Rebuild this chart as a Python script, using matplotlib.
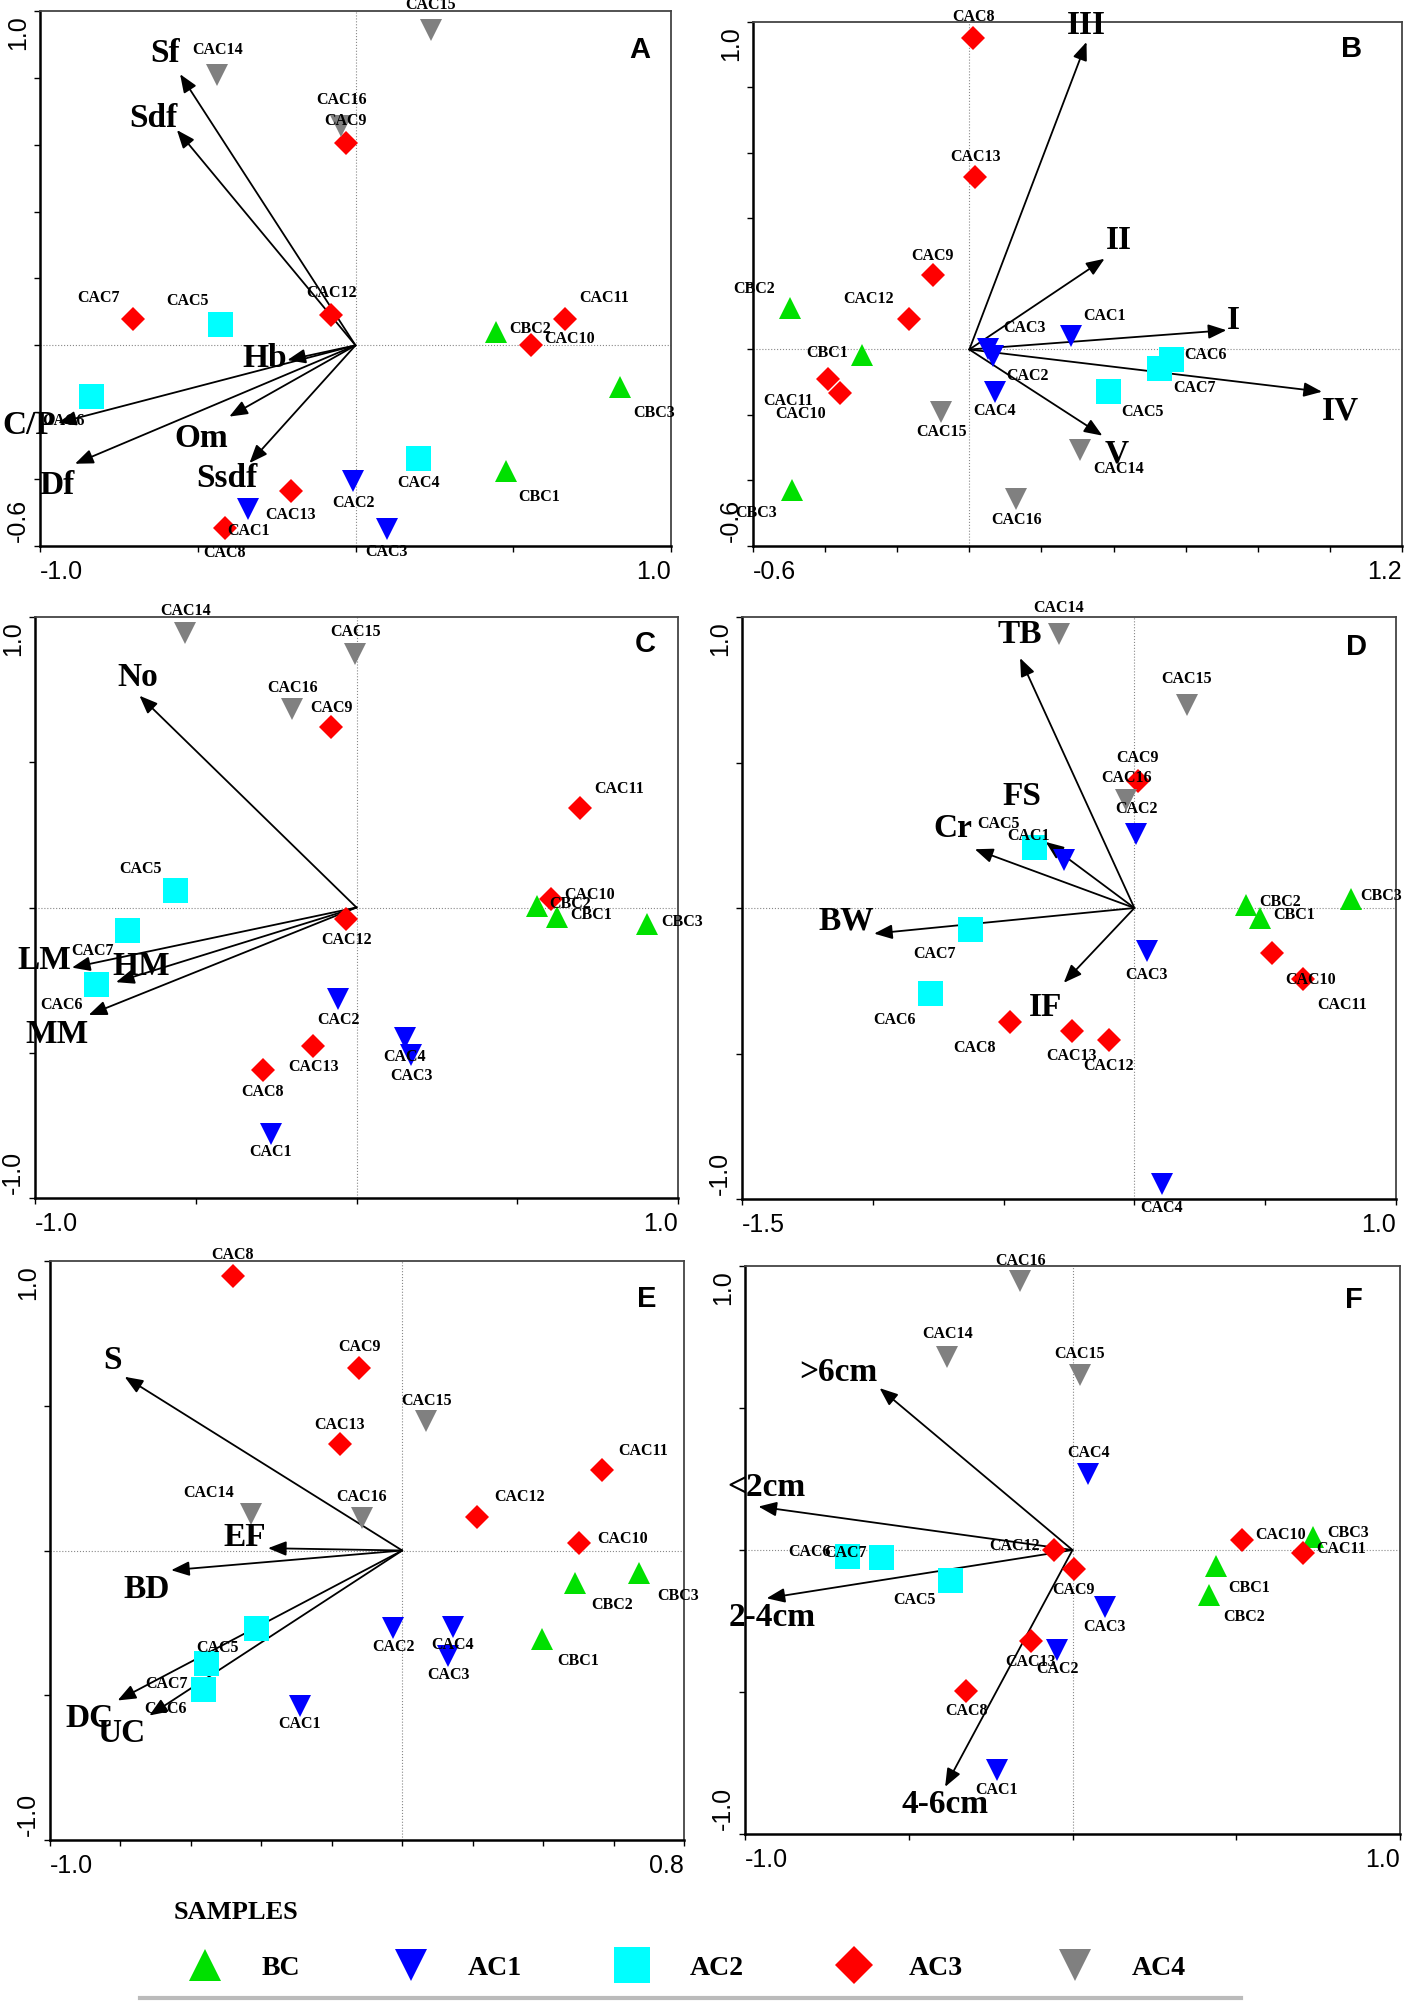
import numpy as np
import matplotlib
matplotlib.use("Agg")
import matplotlib.pyplot as plt
from matplotlib.lines import Line2D

SERIF = "Liberation Serif"
SANS = "Liberation Sans"

# ---------------- data ----------------
samples = ["CBC1", "CBC2", "CBC3",
           "CAC1", "CAC2", "CAC3", "CAC4",
           "CAC5", "CAC6", "CAC7",
           "CAC8", "CAC9", "CAC10", "CAC11", "CAC12", "CAC13",
           "CAC14", "CAC15", "CAC16"]
groups = ["BC", "BC", "BC",
          "AC1", "AC1", "AC1", "AC1",
          "AC2", "AC2", "AC2",
          "AC3", "AC3", "AC3", "AC3", "AC3", "AC3",
          "AC4", "AC4", "AC4"]
# panel A shows CAC4 as a square and CAC7 as a diamond
groups_a = {"CAC4": "AC2", "CAC7": "AC3"}

# A
a_x = [0.477, 0.444, 0.837, -0.340, -0.007, 0.099, 0.199, -0.428, -0.837, -0.705,
       -0.414, -0.031, 0.555, 0.664, -0.077, -0.206, -0.438, 0.238, -0.045]
a_y = [-0.375, 0.041, -0.123, -0.490, -0.405, -0.550, -0.337, 0.065, -0.151, 0.080,
       -0.546, 0.605, 0.001, 0.078, 0.091, -0.437, 0.808, 0.944, 0.656]
a_vars = ["Sf", "Sdf", "Hb", "C/P", "Df", "Om", "Ssdf"]
a_vx = [-0.556, -0.566, -0.216, -0.943, -0.889, -0.400, -0.336]
a_vy = [0.811, 0.644, -0.044, -0.232, -0.354, -0.213, -0.352]

# B
b_x = [-0.299, -0.498, -0.491, 0.282, 0.065, 0.052, 0.071, 0.384, 0.559, 0.527,
       0.011, -0.101, -0.360, -0.391, -0.168, 0.017, 0.307, -0.078, 0.130]
b_y = [-0.018, 0.126, -0.430, 0.040, -0.021, 0.002, -0.129, -0.126, -0.029, -0.055,
       0.951, 0.227, -0.133, -0.089, 0.094, 0.528, -0.306, -0.192, -0.458]
b_vars = ["I", "II", "III", "IV", "V"]
b_vx = [0.713, 0.375, 0.325, 0.978, 0.369]
b_vy = [0.059, 0.277, 0.939, -0.129, -0.263]

# C
c_x = [0.625, 0.562, 0.904, -0.266, -0.056, 0.171, 0.150, -0.563, -0.811, -0.714,
       -0.291, -0.078, 0.604, 0.695, -0.032, -0.134, -0.532, -0.004, -0.200]
c_y = [-0.032, 0.004, -0.058, -0.780, -0.316, -0.507, -0.449, 0.061, -0.264, -0.077,
       -0.558, 0.620, 0.029, 0.341, -0.039, -0.478, 0.945, 0.872, 0.684]
c_vars = ["No", "LM", "HM", "MM"]
c_vx = [-0.675, -0.885, -0.748, -0.833]
c_vy = [0.729, -0.207, -0.257, -0.370]

# D
d_x = [0.482, 0.425, 0.828, -0.270, 0.007, 0.047, 0.105, -0.382, -0.783, -0.627,
       -0.477, 0.012, 0.525, 0.646, -0.097, -0.240, -0.290, 0.200, -0.031]
d_y = [-0.033, 0.010, 0.032, 0.165, 0.256, -0.149, -0.950, 0.209, -0.293, -0.072,
       -0.391, 0.436, -0.156, -0.243, -0.452, -0.423, 0.941, 0.696, 0.371]
d_vars = ["TB", "FS", "Cr", "BW", "IF"]
d_vx = [-0.437, -0.339, -0.610, -0.995, -0.270]
d_vy = [0.859, 0.227, 0.202, -0.088, -0.257]

# E
e_x = [0.397, 0.490, 0.673, -0.291, -0.026, 0.131, 0.144, -0.414, -0.565, -0.558,
       -0.481, -0.122, 0.503, 0.567, 0.212, -0.177, -0.429, 0.068, -0.115]
e_y = [-0.304, -0.113, -0.079, -0.536, -0.267, -0.363, -0.263, -0.266, -0.477, -0.389,
       0.948, 0.630, 0.027, 0.278, 0.116, 0.368, 0.125, 0.446, 0.112]
e_vars = ["S", "EF", "BD", "DC", "UC"]
e_vx = [-0.788, -0.381, -0.656, -0.808, -0.718]
e_vy = [0.600, 0.008, -0.068, -0.518, -0.570]

# F
f_x = [0.439, 0.418, 0.734, -0.232, -0.046, 0.099, 0.048, -0.375, -0.690, -0.586,
       -0.324, 0.004, 0.517, 0.703, -0.055, -0.128, -0.383, 0.023, -0.159]
f_y = [-0.056, -0.157, 0.046, -0.776, -0.352, -0.202, 0.268, -0.107, -0.021, -0.025,
       -0.498, -0.067, 0.035, -0.011, 0.000, -0.320, 0.681, 0.616, 0.946]
f_vars = [">6cm", "<2cm", "2-4cm", "4-6cm"]
f_vx = [-0.589, -0.959, -0.934, -0.389]
f_vy = [0.570, 0.153, -0.170, -0.834]

# ---------------- label placement (offset points) ----------------
a_off = [(24, -19), (25, 2), (25, -19), (0, -16), (0, -16), (0, -16), (0, -18), (-24, 16),
         (-20, -18), (-25, 15), (0, -18), (0, 16), (28, 4), (28, 15), (0, 16), (0, -17),
         (0, 18), (0, 18), (0, 19)]
b_off = [(-25, 2), (-26, 14), (-26, -16), (24, 15), (25, -14), (26, 15), (0, -14), (25, -15),
         (25, 3), (25, -15), (0, 15), (0, 14), (-28, -15), (-29, -16), (-29, 14), (0, 14),
         (28, -14), (0, -14), (0, -15)]
c_off = [(24, 1), (24, 2), (25, 2), (0, -13), (0, -15), (0, -15), (0, -14), (-25, 15),
         (-25, -15), (-25, -15), (0, -16), (0, 14), (28, 3), (28, 14), (0, -15), (0, -15),
         (0, 16), (0, 16), (0, 15)]
d_off = [(24, 2), (25, 2), (22, 2), (-25, 17), (0, 18), (0, -17), (0, -17), (-26, 17),
         (-25, -19), (-26, -18), (-25, -19), (0, 17), (28, -19), (28, -19), (0, -19), (0, -18),
         (0, 19), (0, 19), (0, 16)]
e_off = [(26, -16), (27, -16), (28, -16), (0, -13), (0, -14), (0, -14), (0, -13), (-28, -15),
         (-27, -15), (-28, -15), (0, 15), (0, 15), (31, 3), (30, 14), (31, 14), (0, 14),
         (-31, 15), (0, 15), (0, 15)]
f_off = [(24, -16), (25, -16), (25, 3), (0, -14), (0, -14), (0, -14), (0, 15), (-25, -14),
         (-27, 3), (-25, 3), (0, -14), (0, -15), (28, 4), (28, 3), (-29, 3), (0, -15),
         (0, 16), (0, 15), (0, 15)]

a_voff = [(-11, 15), (-17, 8), (-16, 1), (-21, -2), (-13, -16), (-20, -16), (-16, -11)]
b_voff = [(5, 7), (10, 13), (0, 12), (13, -14), (10, -13)]
c_voff = [(-1, 13), (-20, 5), (18, 11), (-23, -14)]
d_voff = [(0, 17), (-17, 33), (-16, 15), (-20, 9), (-13, -18)]
e_voff = [(-9, 12), (-17, 8), (-18, -14), (-20, -13), (-20, -13)]
f_voff = [(-30, 11), (6, 14), (4, -14), (0, -13)]

style = {
    "BC": dict(marker="^", color="#00e000", ms=15.5),
    "AC1": dict(marker="v", color="#0000ff", ms=15.5),
    "AC2": dict(marker="s", color="#00ffff", ms=18),
    "AC3": dict(marker="D", color="#ff0000", ms=12.7),
    "AC4": dict(marker="v", color="#808080", ms=15.5),
}

W, H = 1404, 2001
fig = plt.figure(figsize=(W / 100, H / 100), dpi=100)


def box(l, r, t, b):
    return [l / W, 1 - b / H, (r - l) / W, (b - t) / H]


panels = [
    ("A", a_x, a_y, a_off, a_vars, a_vx, a_vy, a_voff, (-1.0, 1.0), (-0.6, 1.0), 0.5, 0.2, groups_a,
     box(40, 671, 11, 546), (0.951, 0.927)),
    ("B", b_x, b_y, b_off, b_vars, b_vx, b_vy, b_voff, (-0.6, 1.2), (-0.6, 1.0), 0.2, 0.2, {},
     box(753, 1402, 22, 546), (0.922, 0.948)),
    ("C", c_x, c_y, c_off, c_vars, c_vx, c_vy, c_voff, (-1.0, 1.0), (-1.0, 1.0), 0.5, 0.5, {},
     box(35, 678, 617, 1198), (0.949, 0.953)),
    ("D", d_x, d_y, d_off, d_vars, d_vx, d_vy, d_voff, (-1.5, 1.0), (-1.0, 1.0), 0.5, 0.5, {},
     box(742, 1396, 617, 1199), (0.939, 0.949)),
    ("E", e_x, e_y, e_off, e_vars, e_vx, e_vy, e_voff, (-1.0, 0.8), (-1.0, 1.0), 0.2, 0.5, {},
     box(50, 684, 1261, 1840), (0.942, 0.934)),
    ("F", f_x, f_y, f_off, f_vars, f_vx, f_vy, f_voff, (-1.0, 1.0), (-1.0, 1.0), 0.5, 0.5, {},
     box(745, 1400, 1266, 1834), (0.929, 0.941)),
]

for (letter, xs, ys, offs, vnames, vx, vy, voffs, xlim, ylim, xstep, ystep, regroup, pos, lpos) in panels:
    ax = fig.add_axes(pos)
    ax.set_xlim(*xlim)
    ax.set_ylim(*ylim)
    ax.axhline(0, color="#888888", lw=0.8, ls=":", zorder=1)
    ax.axvline(0, color="#888888", lw=0.8, ls=":", zorder=1)

    ax.set_xticks(np.arange(xlim[0], xlim[1] + 1e-6, xstep))
    ax.set_yticks(np.arange(ylim[0], ylim[1] + 1e-6, ystep))
    ax.tick_params(direction="out", length=4, width=1, labelbottom=False, labelleft=False)
    for side in ["left", "bottom"]:
        ax.spines[side].set_linewidth(1.8)
        ax.spines[side].set_color("black")
    for side in ["top", "right"]:
        ax.spines[side].set_linewidth(1.3)
        ax.spines[side].set_color("#444444")

    # end tick labels only
    tk = dict(xycoords="axes fraction", textcoords="offset points", fontsize=18, family=SANS)
    ax.annotate(f"{xlim[0]:.1f}", (0, 0), xytext=(0, -10), ha="left", va="top", **tk)
    ax.annotate(f"{xlim[1]:.1f}", (1, 0), xytext=(0, -10), ha="right", va="top", **tk)
    ax.annotate(f"{ylim[1]:.1f}", (0, 1), xytext=(-16, -3), ha="center", va="top", rotation=90, **tk)
    ax.annotate(f"{ylim[0]:.1f}", (0, 0), xytext=(-16, 3), ha="center", va="bottom", rotation=90, **tk)

    # environmental arrows
    for name, tx, ty, (ox, oy) in zip(vnames, vx, vy, voffs):
        ax.annotate("", xy=(tx, ty), xytext=(0, 0),
                    arrowprops=dict(arrowstyle="-|>,head_length=0.55,head_width=0.22",
                                    color="black", lw=1.3, mutation_scale=20,
                                    shrinkA=0, shrinkB=0), zorder=2)
        ax.annotate(name, (tx, ty), xytext=(ox, oy), textcoords="offset points",
                    ha="center", va="center", fontsize=24, fontweight="bold",
                    family=SERIF, zorder=5)

    # samples
    for name, g, x, y, (ox, oy) in zip(samples, groups, xs, ys, offs):
        g = regroup.get(name, g)
        st = style[g]
        ax.plot(x, y, linestyle="none", marker=st["marker"], color=st["color"],
                ms=st["ms"], mew=0, zorder=3)
        ax.annotate(name, (x, y), xytext=(ox, oy), textcoords="offset points",
                    ha="center", va="center", fontsize=11.5, fontweight="bold",
                    family=SERIF, zorder=6, annotation_clip=False)

    ax.text(lpos[0], lpos[1], letter, transform=ax.transAxes, ha="center", va="center",
            fontsize=21, fontweight="bold", family=SANS)

# ---------------- legend ----------------
leg = fig.add_axes([0, 0, 1, 0.07])
leg.set_xlim(0, 1)
leg.set_ylim(0, 1)
leg.axis("off")
leg.text(0.168, 0.63, "SAMPLES", ha="center", va="center", fontsize=19,
         fontweight="bold", family=SERIF)
legend_groups = ["BC", "AC1", "AC2", "AC3", "AC4"]
legend_mx = [0.146, 0.293, 0.450, 0.608, 0.766]
legend_tx = [0.186, 0.333, 0.491, 0.647, 0.806]
legend_ms = {"BC": 23, "AC1": 23, "AC2": 26, "AC3": 19, "AC4": 23}
for g, mx, tx in zip(legend_groups, legend_mx, legend_tx):
    st = style[g]
    leg.plot(mx, 0.26, linestyle="none", marker=st["marker"], color=st["color"],
             ms=legend_ms[g], mew=0)
    leg.text(tx, 0.23, g, ha="left", va="center", fontsize=20, fontweight="bold",
             family=SERIF)
leg.add_line(Line2D([0.0997, 0.884], [0.02, 0.02], color="#bbbbbb", lw=3))

fig.savefig("out.png", dpi=100)
